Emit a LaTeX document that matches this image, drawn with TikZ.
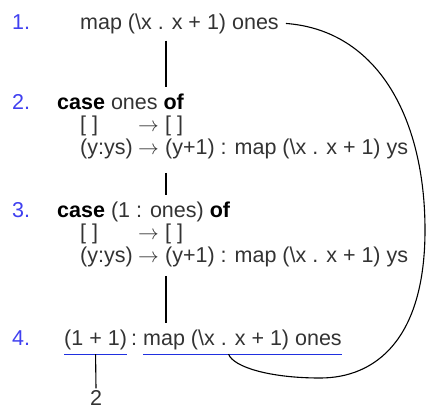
\documentclass[tikz,border=0pt]{standalone}
\usepackage{fontspec}
\setmainfont{Liberation Sans}
\usetikzlibrary{positioning, calc}
\definecolor{numblue}{HTML}{4040F0}
\definecolor{lineblue}{HTML}{2030E0}
\definecolor{codegray}{HTML}{333333}
\newcommand{\kw}[1]{\textbf{\color{black}#1}}
\newcommand{\altpat}[1]{\hspace*{23pt}\makebox[58pt][l]{#1}}
\newcommand{\altarr}{\makebox[27pt][l]{$\rightarrow$}}

\begin{document}
\begin{tikzpicture}[
  x=1pt, y=-1pt,
  every node/.style={font=\fontsize{21.5}{22.5}\selectfont},
  codeline/.style={anchor=base west, inner sep=0pt, text=codegray},
  stepnum/.style={anchor=base west, inner sep=0pt, text=numblue},
  stem/.style={line width=1.1pt, shorten <=7pt, shorten >=6pt},
  uline/.style={draw=lineblue, line width=1.2pt},
  loopline/.style={line width=1.1pt},
]
\useasboundingbox (0,0) rectangle (427,410);

% step 1
\node[stepnum] (n1) at (12,29) {1.};
\node[codeline] (l1) at (80,29) {map (\textbackslash x . x + 1) ones};

% step 2
\node[stepnum] (n2) at (12,109) {2.};
\node[codeline] (c2) at (57,109) {\begin{tabular}[t]{@{}l@{}}
  \kw{case} ones \kw{of}\\
  \altpat{[ ]}\altarr[ ]\\
  \altpat{(y:ys)}\altarr(y+1) : map (\textbackslash x . x + 1) ys
\end{tabular}};

% step 3
\node[stepnum] (n3) at (12,217) {3.};
\node[codeline] (c3) at (57,217) {\begin{tabular}[t]{@{}l@{}}
  \kw{case} (1 : ones) \kw{of}\\
  \altpat{[ ]}\altarr[ ]\\
  \altpat{(y:ys)}\altarr(y+1) : map (\textbackslash x . x + 1) ys
\end{tabular}};

% step 4
\node[stepnum] (n4) at (12,345) {4.};
\node[codeline] (a4) at (64,345) {(1 + 1)};
\node[codeline] (k4) at (131,345) {:};
\node[codeline] (m4) at (143,345) {map (\textbackslash x . x + 1) ones};
\node[inner sep=2pt, text=codegray] (two) at (96,398) {2};

% underlines
\coordinate (a4l) at ([yshift=-4.5pt]a4.south west);
\coordinate (a4r) at ([yshift=-4.5pt]a4.south east);
\coordinate (m4l) at ([yshift=-4.5pt]m4.south west);
\coordinate (m4r) at ([yshift=-4.5pt]m4.south east);
\coordinate (m4hook) at ($(m4l)!0.43!(m4r)$);
\draw[uline] (a4l) -- (a4r);
\draw[uline] (m4l) -- (m4r);

% reduction steps
\coordinate (stemx) at (166,0);
\draw[stem] (l1.south -| stemx) -- (c2.north -| stemx);
\draw[stem, shorten <=12pt] (c2.south -| stemx) -- (c3.north -| stemx);
\draw[stem] (c3.south -| stemx) -- (a4.north -| stemx);
\draw[line width=1.1pt] ($(a4l)!0.5!(a4r)$) -- (two.north);

% sharing loop
\coordinate (bend) at (425,230);
\coordinate (bottom) at (320,378);
\draw[loopline] ([xshift=7pt]l1.east) .. controls +(93,7) and +(0,-110) .. (bend)
  .. controls +(0,110) and +(55,0) .. (bottom)
  .. controls +(-50,0) and +(5,13) .. (m4hook);
\end{tikzpicture}
\end{document}
